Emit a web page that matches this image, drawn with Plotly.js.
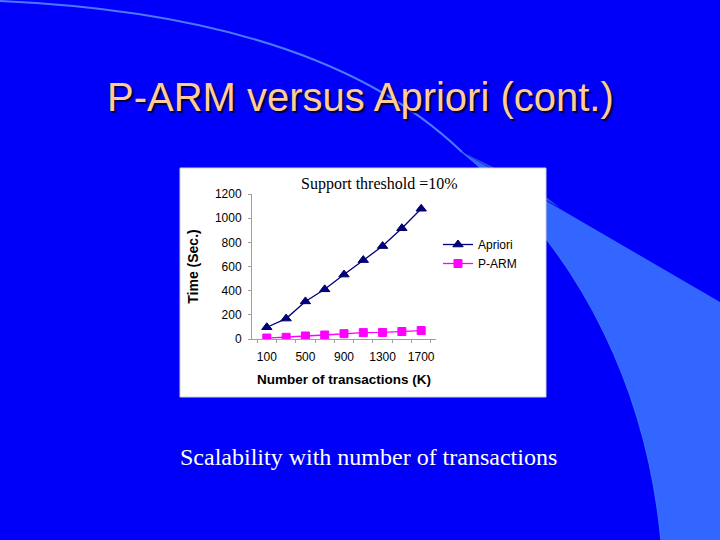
<!DOCTYPE html>
<html>
<head>
<meta charset="utf-8">
<script src="https://cdn.plot.ly/plotly-3.0.1.min.js"></script>
<style>html,body{margin:0;padding:0;background:#0000FA;}#chart{width:720px;height:540px;}</style>
</head>
<body>
<div id="chart"></div>
<script>
// ---- data ----
const categories = ["100","300","500","700","900","1100","1300","1500","1700"];
const tickLabels = ["100","","500","","900","","1300","","1700"];
const apriori = [97, 169, 311, 411, 533, 653, 769, 917, 1078];
const parm = [8, 14, 25, 33, 44, 53, 54, 62, 70];
const seriesNames = ["Apriori", "P-ARM"];
const slideTitle = "P-ARM versus Apriori (cont.)";
const chartTitle = "Support threshold =10%";
const caption = "Scalability with number of transactions";
const yTitle = "Time (Sec.)";
const xTitle = "Number of transactions (K)";

// ---- layout helpers (pixel -> paper) ----
const W = 720, H = 540;
const px = x => x / W;
const py = y => 1 - y / H;
function pathPx(cmds) {
  return cmds.map(c => {
    const l = c[0];
    const nums = [];
    for (let i = 1; i < c.length; i += 2) nums.push(px(c[i]).toFixed(5) + "," + py(c[i+1]).toFixed(5));
    return l + " " + nums.join(" ");
  }).join(" ");
}

const bandPath = pathPx([["M",462,152],["L",720,302],["L",720,540],["L",661,540],["C",648,400,588,255,462,152]]) + " Z";
const tipShade = pathPx([["M",462,152],["L",560,208],["C",540,190,510,175,462,152]]) + " Z";
const thinLine = pathPx([["M",0,1],["Q",320,15,462,152]]);
const innerLine = pathPx([["M",462,152],["C",588,255,648,400,661,540]]);

const traces = [
  {
    x: categories, y: apriori, name: seriesNames[0], type: "scatter", mode: "lines+markers",
    line: {color: "#000080", width: 1.3},
    marker: {symbol: "triangle-up", size: 9, color: "#000080", line: {color: "#000060", width: 1}}
  },
  {
    x: categories, y: parm, name: seriesNames[1], type: "scatter", mode: "lines+markers",
    line: {color: "#FF00FF", width: 1.3},
    marker: {symbol: "square", size: 8, color: "#FF00FF", line: {color: "#FF00FF", width: 1}}
  }
];

const layout = {
  width: W, height: H,
  margin: {l: 0, r: 0, t: 0, b: 0},
  paper_bgcolor: "#0000FA",
  plot_bgcolor: "rgba(0,0,0,0)",
  showlegend: true,
  legend: {
    x: px(438), xanchor: "left", y: py(230), yanchor: "top",
    bgcolor: "rgba(0,0,0,0)", font: {family: "Liberation Sans, Arial", size: 12, color: "#000"},
    itemwidth: 30, tracegroupgap: 0
  },
  xaxis: {
    domain: [px(252), px(436)],
    type: "category",
    tickmode: "array", tickvals: categories, ticktext: tickLabels, tickangle: 0,
    tickson: "boundaries", ticks: "outside", ticklen: 3, tickcolor: "#A0A0A0",
    ticklabelstandoff: 7,
    showline: true, linecolor: "#A0A0A0", linewidth: 1,
    showgrid: false, zeroline: false,
    tickfont: {family: "Liberation Sans, Arial", size: 12, color: "#000"},
    title: {text: xTitle, font: {family: "Liberation Sans, Arial", size: 13.5, color: "#000", weight: "bold"}, standoff: 11},
    fixedrange: true
  },
  yaxis: {
    domain: [py(339), py(194)],
    range: [0, 1200], tickvals: [0,200,400,600,800,1000,1200],
    ticks: "outside", ticklen: 3, tickcolor: "#A0A0A0",
    showline: true, linecolor: "#A0A0A0", linewidth: 1,
    showgrid: false, zeroline: false,
    tickfont: {family: "Liberation Sans, Arial", size: 12, color: "#000"},
    ticklabelstandoff: 4,
    title: {text: yTitle, font: {family: "Liberation Sans, Arial", size: 14, color: "#000", weight: "bold"}, standoff: 12},
    fixedrange: true
  },
  shapes: [
    {type: "path", xref: "paper", yref: "paper", path: bandPath, fillcolor: "#3366FF", line: {width: 0}, layer: "below"},
    {type: "path", xref: "paper", yref: "paper", path: tipShade, fillcolor: "#2A4FD8", line: {width: 0}, layer: "below"},
    {type: "path", xref: "paper", yref: "paper", path: thinLine, line: {color: "#4A78FF", width: 2}, layer: "below"},
    {type: "path", xref: "paper", yref: "paper", path: innerLine, line: {color: "#3A6BFF", width: 1.5}, layer: "below"},
    {type: "rect", xref: "paper", yref: "paper", x0: px(180), x1: px(546), y0: py(397), y1: py(168),
     fillcolor: "#FFFFFF", line: {color: "#D0D0D0", width: 1}, layer: "below"}
  ],
  annotations: [
    {text: slideTitle, xref: "paper", yref: "paper", x: px(360), y: py(97), xanchor: "center", yanchor: "middle",
     showarrow: false, font: {family: "Liberation Sans, Arial", size: 40, color: "#FFCC99", shadow: "2px 2px 1px #000040"}},
    {text: chartTitle, xref: "paper", yref: "paper", x: px(379), y: py(184), xanchor: "center", yanchor: "middle",
     showarrow: false, font: {family: "Liberation Serif, Times New Roman", size: 16, color: "#000"}},
    {text: caption, xref: "paper", yref: "paper", x: px(369), y: py(457), xanchor: "center", yanchor: "middle",
     showarrow: false, font: {family: "Liberation Serif, Times New Roman", size: 24, color: "#FFFFFF"}}
  ]
};

Plotly.newPlot("chart", traces, layout, {displayModeBar: false, staticPlot: true});
</script>
</body>
</html>
